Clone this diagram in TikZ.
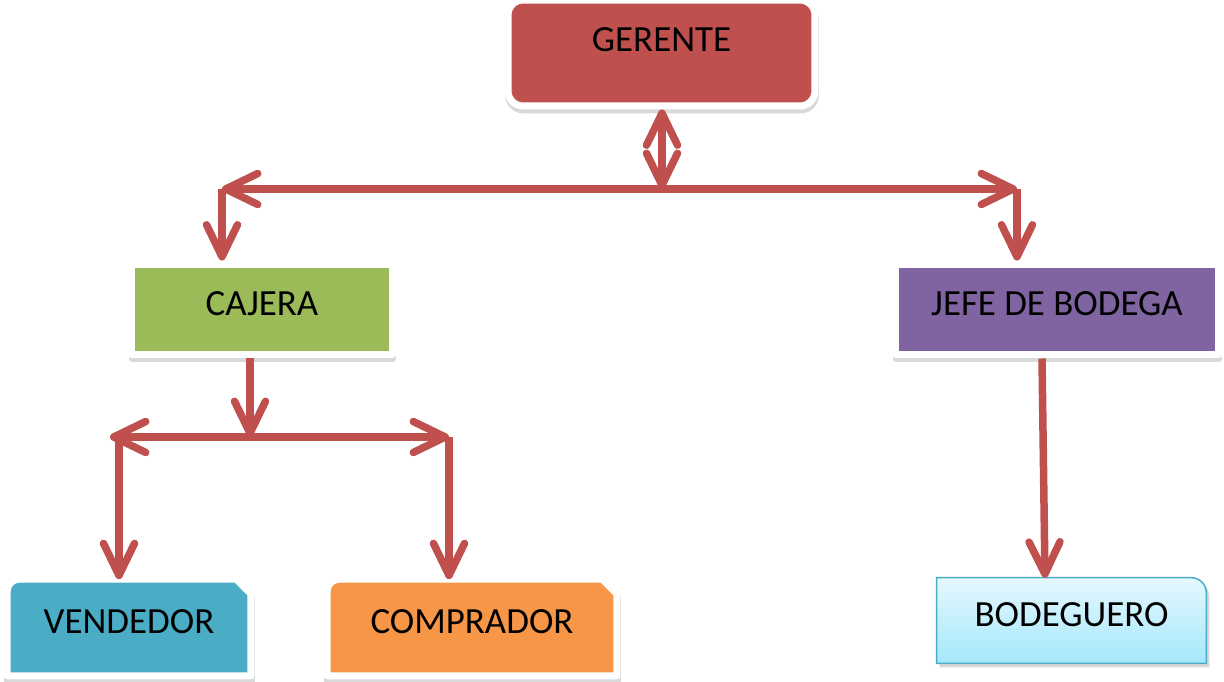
\documentclass[tikz,border=0pt]{standalone}
\usepackage{fontspec}
\setmainfont{Carlito}
\usetikzlibrary{arrows.meta,backgrounds}
\definecolor{gerred}{HTML}{C0504D}
\definecolor{cajgreen}{HTML}{9BBB59}
\definecolor{jefepurple}{HTML}{8064A2}
\definecolor{vendblue}{HTML}{4BACC6}
\definecolor{comporange}{HTML}{F79646}
\definecolor{bodtop}{HTML}{E4F8FE}
\definecolor{bodbottom}{HTML}{A5E8FC}
\definecolor{bodline}{HTML}{4BACC6}
\definecolor{arrowred}{HTML}{C0504D}
\tikzset{
  puesto/.style={rectangle, minimum height=1.82cm, text depth=0.24cm,
    font=\fontsize{21}{25}\selectfont},
  marco/.style={draw=white, line width=0.14cm, line join=round,
    preaction={draw=black!15, fill=black!15, line width=0.14cm,
      transform canvas={shift={(0.01cm,-0.08cm)}}}},
  flecha/.style={draw=arrowred, line width=0.15cm},
}
\begin{document}
\begin{tikzpicture}[x=0.02cm, y=-0.02cm,
  >={Straight Barb[length=0.64cm, width=0.62cm, round]}]
\useasboundingbox (0,0) rectangle (1224,682);
% Gerente and the two heads
\node[puesto, marco, fill=gerred, minimum width=6.14cm, minimum height=2.12cm,
  rounded corners=0.3cm, text depth=0.52cm] (ger) at (661.5,53) {GERENTE};
\node[puesto, marco, fill=cajgreen, minimum width=5.22cm] (caj) at (262,309.5) {CAJERA};
\node[puesto, marco, fill=jefepurple, minimum width=6.46cm] (jefe) at (1057,309.5) {JEFE DE BODEGA};
% Bottom row
\node[puesto, minimum width=4.86cm, minimum height=1.92cm, text depth=0.22cm] (vend) at (129,627.5) {VENDEDOR};
\node[puesto, minimum width=5.78cm, minimum height=1.92cm, text depth=0.22cm] (comp) at (472,627.5) {COMPRADOR};
\node[puesto, minimum width=5.38cm, minimum height=1.7cm, text depth=0.22cm] (bod) at (1071.5,620.5) {BODEGUERO};
% Shapes of the bottom row
\begin{scope}[on background layer]
\path[marco, fill=vendblue] (vend.south west) -- ([yshift=-0.24cm]vend.north west)
  arc[start angle=180, end angle=90, radius=0.24cm] -- ([xshift=-0.29cm]vend.north east)
  -- ([yshift=-0.29cm]vend.north east) -- (vend.south east) -- cycle;
\path[marco, fill=comporange] (comp.south west) -- ([yshift=-0.24cm]comp.north west)
  arc[start angle=180, end angle=90, radius=0.24cm] -- ([xshift=-0.29cm]comp.north east)
  -- ([yshift=-0.29cm]comp.north east) -- (comp.south east) -- cycle;
\path[draw=bodline, line width=0.03cm, top color=bodtop, bottom color=bodbottom,
  preaction={fill=black!30, opacity=0.5, transform canvas={shift={(0.06cm,-0.08cm)}}}]
  (bod.south west) -- (bod.north west) -- ([xshift=-0.3cm]bod.north east)
  arc[start angle=90, end angle=0, radius=0.3cm] -- (bod.south east) -- cycle;
\end{scope}
% Connectors from gerente
\coordinate (gmid) at (662,189);
\coordinate (gl) at (222,189);
\coordinate (gr) at (1017,189);
\draw[flecha, <->] (ger.south -| gmid) -- (gmid);
\draw[flecha, <->] (gl) -- (gr);
\draw[flecha, ->] (gl) -- (gl |- caj.north);
\draw[flecha, ->] (gr) -- (gr |- jefe.north);
% Connectors from cajera
\coordinate (cmid) at (250,437);
\coordinate (cl) at (110,437);
\coordinate (cvl) at (119,437);
\coordinate (cr) at (449,437);
\draw[flecha, ->] (caj.south -| cmid) -- (cmid);
\draw[flecha, <->] (cl) -- (cr);
\draw[flecha, ->] (cvl) -- (cvl |- vend.north);
\draw[flecha, ->] (cr) -- (cr |- comp.north);
% Connector from jefe de bodega
\draw[flecha, ->] ([xshift=-0.3cm]jefe.south) -- ([xshift=-0.53cm]bod.north);
\end{tikzpicture}
\end{document}
